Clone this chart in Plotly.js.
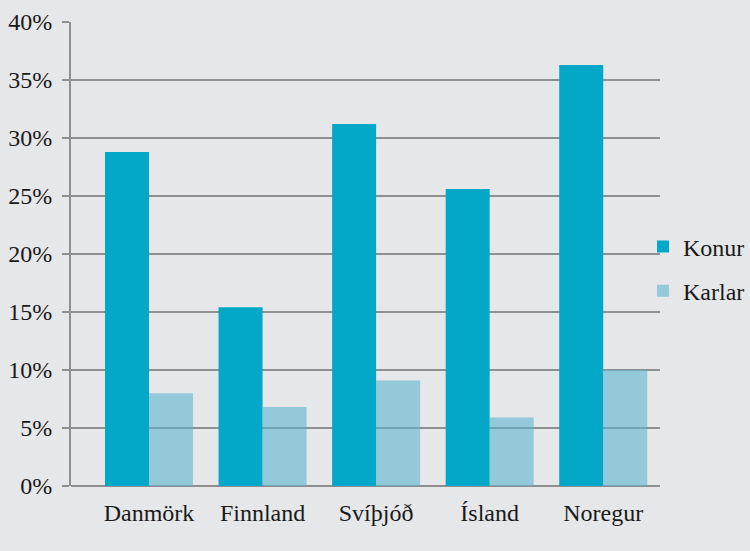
<!DOCTYPE html>
<html>
<head>
<meta charset="utf-8">
<script src="https://cdn.plot.ly/plotly-3.0.1.min.js"></script>
<style>html,body{margin:0;padding:0;background:#e6e7e9;}#chart{width:750px;height:551px;}</style>
</head>
<body>
<div id="chart"></div>
<script>
const categories = ['Danmörk', 'Finnland', 'Svíþjóð', 'Ísland', 'Noregur'];
const konur = [28.8, 15.4, 31.2, 25.6, 36.3];
const karlar = [8.0, 6.8, 9.1, 5.9, 10.0];
const yTickVals = [0, 5, 10, 15, 20, 25, 30, 35, 40];
const yTickText = ['0%', '5%', '10%', '15%', '20%', '25%', '30%', '35%', '40%'];

const fontFam = 'Liberation Serif, DejaVu Serif, serif';
const gridCol = '#8f8f8f';

const traces = [
  {type: 'bar', name: 'Konur', x: categories, y: konur, legendgroup: 'a',
   marker: {color: '#03a8c8', line: {width: 0}}},
  {type: 'bar', name: 'Karlar', x: categories, y: karlar, legendgroup: 'b',
   marker: {color: 'rgba(92,182,205,0.6)', line: {width: 0}}}
];

const layout = {
  width: 750, height: 551,
  paper_bgcolor: '#e6e7e9', plot_bgcolor: '#e6e7e9',
  margin: {l: 71, r: 0, t: 22, b: 65},
  barmode: 'group', bargap: 0.225, bargroupgap: 0,
  font: {family: fontFam, size: 24, color: '#1a1a1a'},
  xaxis: {type: 'category', domain: [0, 589 / 679], range: [-0.687, 4.5], showgrid: false, showline: false,
          zeroline: false, ticks: '', ticklabelstandoff: 10,
          tickfont: {family: fontFam, size: 24, color: '#1a1a1a'}},
  yaxis: {range: [0, 40], tickmode: 'array', tickvals: yTickVals, ticktext: yTickText, showgrid: true,
          gridcolor: gridCol, gridwidth: 2, zeroline: true, zerolinecolor: gridCol,
          zerolinewidth: 2, showline: true, linecolor: gridCol, linewidth: 2,
          ticks: 'outside', ticklen: 7, tickwidth: 2, tickcolor: gridCol,
          ticklabelstandoff: 5,
          tickfont: {family: fontFam, size: 24, color: '#1a1a1a'}},
  showlegend: true,
  legend: {x: 1, xanchor: 'right', y: 0.468, yanchor: 'middle',
           bgcolor: 'rgba(0,0,0,0)', itemwidth: 30, tracegroupgap: 10,
           traceorder: 'grouped', font: {family: fontFam, size: 24, color: '#1a1a1a'}}
};

Plotly.newPlot('chart', traces, layout, {displayModeBar: false, staticPlot: true});
</script>
</body>
</html>
